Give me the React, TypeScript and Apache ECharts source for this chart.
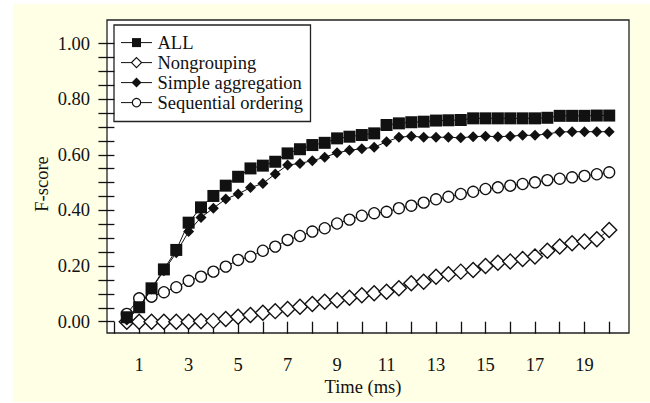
import React, { useEffect, useRef } from "react";
import * as echarts from "echarts";

const TIME = [0.5, 1, 1.5, 2, 2.5, 3, 3.5, 4, 4.5, 5, 5.5, 6, 6.5, 7, 7.5, 8, 8.5, 9, 9.5, 10,
  10.5, 11, 11.5, 12, 12.5, 13, 13.5, 14, 14.5, 15, 15.5, 16, 16.5, 17, 17.5, 18, 18.5, 19, 19.5, 20];

const ALL = [0.016, 0.052, 0.12, 0.188, 0.258, 0.356, 0.411, 0.452, 0.489, 0.521,
  0.551, 0.561, 0.575, 0.605, 0.62, 0.635, 0.643, 0.659, 0.665, 0.671,
  0.677, 0.707, 0.713, 0.717, 0.719, 0.723, 0.724, 0.725, 0.731, 0.731,
  0.731, 0.731, 0.731, 0.731, 0.733, 0.74, 0.74, 0.74, 0.741, 0.741];

const NONGROUPING = [0, 0, 0, 0, 0, 0, 0.002, 0.003, 0.01, 0.018,
  0.024, 0.032, 0.038, 0.046, 0.054, 0.064, 0.072, 0.077, 0.086, 0.095,
  0.102, 0.108, 0.12, 0.138, 0.144, 0.162, 0.171, 0.18, 0.186, 0.2,
  0.212, 0.216, 0.225, 0.234, 0.255, 0.27, 0.282, 0.288, 0.296, 0.33];

const SIMPLE = [0.006, 0.05, 0.118, 0.183, 0.248, 0.324, 0.375, 0.408, 0.441, 0.459,
  0.482, 0.497, 0.531, 0.563, 0.569, 0.579, 0.591, 0.607, 0.616, 0.622,
  0.627, 0.647, 0.663, 0.667, 0.663, 0.663, 0.663, 0.661, 0.665, 0.667,
  0.665, 0.667, 0.67, 0.67, 0.675, 0.682, 0.683, 0.683, 0.683, 0.683];

const SEQUENTIAL = [0.028, 0.084, 0.09, 0.106, 0.124, 0.147, 0.162, 0.18, 0.198, 0.222,
  0.234, 0.255, 0.27, 0.294, 0.308, 0.324, 0.336, 0.353, 0.367, 0.381,
  0.39, 0.395, 0.408, 0.417, 0.428, 0.44, 0.449, 0.459, 0.467, 0.477,
  0.483, 0.489, 0.495, 0.501, 0.509, 0.514, 0.519, 0.524, 0.53, 0.537];

const SERIES_NAMES = ["ALL", "Nongrouping", "Simple aggregation", "Sequential ordering"];
const X_NAME = "Time (ms)";
const Y_NAME = "F-score";

const X_TICKS = [0, 1, 2, 3, 4, 5, 6, 7, 8, 9, 10, 11, 12, 13, 14, 15, 16, 17, 18, 19, 20];
const X_LABELS = [1, 3, 5, 7, 9, 11, 13, 15, 17, 19];
const Y_TICKS = [0, 0.05, 0.1, 0.15, 0.2, 0.25, 0.3, 0.35, 0.4, 0.45, 0.5, 0.55, 0.6, 0.65,
  0.7, 0.75, 0.8, 0.85, 0.9, 0.95, 1.0];
const Y_LABELS = [0, 0.2, 0.4, 0.6, 0.8, 1.0];

const FONT = "Liberation Serif";
const INK = "#111";
const FS = 18.5;

const pairs = (ys: number[]) => TIME.map((t, i) => [t, ys[i]]);

function legendGraphic() {
  const left = 114;
  const top = 25;
  const rowY = [42.6, 62.6, 82.6, 102.6];
  const lx0 = 121;
  const lx1 = 152;
  const cx = 136.5;
  const children: any[] = [
    {
      type: "rect",
      shape: { x: left, y: top, width: 196.5, height: 96.5 },
      style: { fill: "#ffffff", stroke: "#222", lineWidth: 1.3 },
    },
  ];
  rowY.forEach((y, i) => {
    children.push({
      type: "line",
      shape: { x1: lx0, y1: y, x2: lx1, y2: y },
      style: { stroke: INK, lineWidth: 1 },
    });
    if (i === 0) {
      children.push({
        type: "rect",
        shape: { x: cx - 4.5, y: y - 4.5, width: 9, height: 9 },
        style: { fill: INK },
      });
    } else if (i === 1) {
      children.push({
        type: "polygon",
        shape: { points: [[cx, y - 5], [cx + 5, y], [cx, y + 5], [cx - 5, y]] },
        style: { fill: "#ffffff", stroke: INK, lineWidth: 1.2 },
      });
    } else if (i === 2) {
      children.push({
        type: "polygon",
        shape: { points: [[cx, y - 5], [cx + 5, y], [cx, y + 5], [cx - 5, y]] },
        style: { fill: INK },
      });
    } else {
      children.push({
        type: "circle",
        shape: { cx, cy: y, r: 4.2 },
        style: { fill: "#ffffff", stroke: INK, lineWidth: 1.2 },
      });
    }
    children.push({
      type: "text",
      x: 157.5,
      y,
      style: {
        text: SERIES_NAMES[i],
        fontFamily: FONT,
        fontSize: FS,
        fill: INK,
        verticalAlign: "middle",
        align: "left",
      },
    });
  });
  return { type: "group", z: 100, children };
}

export default function App() {
  const ref = useRef<HTMLDivElement>(null);
  useEffect(() => {
    if (!ref.current) return;
    document.body.style.margin = "0";
    const chart = echarts.init(ref.current, null, { renderer: "svg" });
    const lineStyle = { color: INK, width: 1 };
    chart.setOption({
      animation: false,
      backgroundColor: "#ffffff",
      textStyle: { fontFamily: FONT, color: INK },
      graphic: {
        elements: [
          {
            type: "rect",
            z: -10,
            silent: true,
            shape: { x: 13, y: 4, width: 637, height: 398 },
            style: { fill: "#FFFFE6" },
          },
          legendGraphic(),
          {
            type: "text",
            x: 363,
            y: 386.5,
            style: {
              text: X_NAME,
              fontFamily: FONT,
              fontSize: FS,
              fill: INK,
              align: "center",
              verticalAlign: "middle",
            },
          },
          {
            type: "text",
            x: 41.5,
            y: 184,
            rotation: Math.PI / 2,
            style: {
              text: Y_NAME,
              fontFamily: FONT,
              fontSize: FS,
              fill: INK,
              align: "center",
              verticalAlign: "middle",
            },
          },
        ],
      },
      grid: {
        left: 107,
        right: 21,
        top: 20,
        bottom: 70,
        show: true,
        backgroundColor: "#ffffff",
        borderColor: "#222",
        borderWidth: 1.3,
      },
      xAxis: {
        type: "value",
        min: -0.3,
        max: 20.8,
        offset: 2,
        axisLine: { show: false },
        splitLine: { show: false },
        axisTick: {
          show: true,
          inside: false,
          length: 12,
          customValues: X_TICKS,
          lineStyle: { color: INK, width: 1.3 },
        },
        axisLabel: {
          customValues: X_LABELS,
          margin: 20,
          fontFamily: FONT,
          fontSize: FS,
          color: INK,
        },
      },
      yAxis: {
        type: "value",
        min: -0.0406,
        max: 1.0845,
        axisLine: { show: false },
        splitLine: { show: false },
        axisTick: {
          show: true,
          inside: false,
          length: 16,
          customValues: Y_TICKS,
          lineStyle: { color: INK, width: 1.3 },
        },
        axisLabel: {
          customValues: Y_LABELS,
          margin: 17,
          padding: [5, 0, 0, 0],
          fontFamily: FONT,
          fontSize: FS,
          color: INK,
          formatter: (v: number) => v.toFixed(2),
        },
      },
      series: [
        {
          name: SERIES_NAMES[0],
          type: "line",
          z: 5,
          data: pairs(ALL),
          symbol: "rect",
          symbolSize: 12,
          showAllSymbol: true,
          lineStyle,
          itemStyle: { color: INK, borderColor: INK, borderWidth: 0 },
        },
        {
          name: SERIES_NAMES[1],
          type: "line",
          z: 3,
          data: pairs(NONGROUPING),
          symbol: "diamond",
          symbolSize: 15,
          showAllSymbol: true,
          lineStyle,
          itemStyle: { color: "#ffffff", borderColor: INK, borderWidth: 1.4 },
        },
        {
          name: SERIES_NAMES[2],
          type: "line",
          z: 4,
          data: pairs(SIMPLE),
          symbol: "diamond",
          symbolSize: 11,
          showAllSymbol: true,
          lineStyle,
          itemStyle: { color: INK, borderColor: INK, borderWidth: 0 },
        },
        {
          name: SERIES_NAMES[3],
          type: "line",
          z: 2,
          data: pairs(SEQUENTIAL),
          symbol: "circle",
          symbolSize: 11,
          showAllSymbol: true,
          lineStyle,
          itemStyle: { color: "#ffffff", borderColor: INK, borderWidth: 1.3 },
        },
      ],
    });
    return () => chart.dispose();
  }, []);
  return (
    <div
      ref={ref}
      style={{ position: "fixed", left: 0, top: 0, width: 650, height: 403 }}
    />
  );
}
